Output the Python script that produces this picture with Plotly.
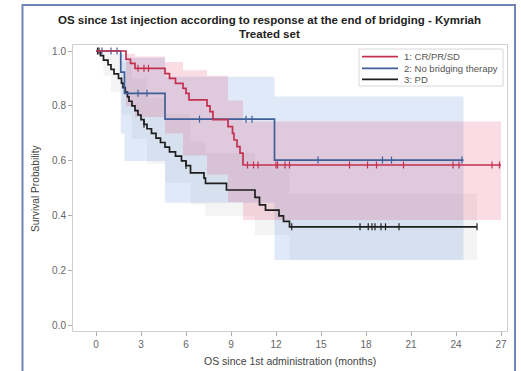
import plotly.graph_objects as go

# ---------------- data ----------------
# Group 1: CR/PR/SD
red_t = [0, 2.0, 2.3, 2.6, 4.6, 4.9, 5.3, 5.8, 6.0, 6.2, 7.4, 7.6, 7.8, 8.8, 9.1, 9.2, 9.4, 9.6, 9.8]
red_s = [1.0, 0.97, 0.955, 0.937, 0.918, 0.90, 0.882, 0.864, 0.846, 0.822, 0.80, 0.779, 0.75, 0.725, 0.70, 0.676, 0.652, 0.628, 0.585]
red_end = 27.0
red_cens_t = [2.8, 3.2, 3.5, 10.1, 10.5, 10.8, 12.0, 12.1, 12.6, 12.9, 16.9, 18.1, 18.7, 20.5, 23.8, 24.2, 26.4, 26.9]
red_ci_t = [0, 2.0, 2.6, 4.6, 5.8, 7.4, 8.8, 9.8]
red_lo = [1.0, 0.80, 0.76, 0.70, 0.62, 0.55, 0.45, 0.385]
red_hi = [1.0, 0.99, 0.98, 0.96, 0.93, 0.91, 0.82, 0.743]

# Group 2: No bridging therapy
blue_t = [0, 1.65, 1.9, 4.6, 11.9]
blue_s = [1.0, 0.923, 0.846, 0.752, 0.603]
blue_end = 24.5
blue_cens_t = [0.4, 1.0, 1.4, 2.8, 3.4, 6.9, 10.0, 10.4, 14.8, 19.1, 19.7, 24.4]
blue_ci_t = [0, 1.65, 1.9, 4.6, 11.9]
blue_lo = [1.0, 0.70, 0.600, 0.448, 0.239]
blue_hi = [1.0, 0.99, 0.975, 0.906, 0.834]

# Group 3: PD
black_t = [0, 0.3, 0.5, 0.8, 1.0, 1.2, 1.5, 1.7, 1.8, 1.95, 2.1, 2.2, 2.4, 2.6, 2.8, 3.0, 3.2,
           3.4, 3.7, 4.0, 4.3, 4.6, 4.9, 5.3, 5.7, 6.0, 6.3, 7.2, 7.3, 8.7, 10.6, 10.9, 11.3,
           12.2, 12.5, 12.9]
black_s = [1.0, 0.983, 0.967, 0.95, 0.933, 0.917, 0.90, 0.883, 0.867, 0.85, 0.833, 0.817, 0.80,
           0.783, 0.767, 0.75, 0.733, 0.717, 0.70, 0.683, 0.667, 0.65, 0.633, 0.617, 0.60, 0.583,
           0.556, 0.537, 0.518, 0.494, 0.467, 0.44, 0.421, 0.40, 0.38, 0.36]
black_end = 25.4
black_cens_t = [0.1, 0.2, 3.2, 6.0, 13.05, 17.6, 18.15, 18.4, 18.6, 19.0, 19.3, 20.2, 25.4]
black_ci_t = [0, 0.5, 1.0, 1.7, 2.4, 3.4, 4.6, 6.3, 7.3, 10.6, 12.9]
black_lo = [1.0, 0.91, 0.85, 0.77, 0.68, 0.59, 0.52, 0.44, 0.40, 0.33, 0.24]
black_hi = [1.0, 1.0, 0.99, 0.96, 0.90, 0.83, 0.77, 0.67, 0.63, 0.58, 0.48]

x_ticks = [0, 3, 6, 9, 12, 15, 18, 21, 24, 27]
y_ticks = [0.0, 0.2, 0.4, 0.6, 0.8, 1.0]

names = ["1: CR/PR/SD", "2: No bridging therapy", "3: PD"]
line_colors = ["#C4304F", "#3E5F98", "#1E1E1E"]
band_colors = ["rgba(225,80,120,0.20)", "rgba(110,155,220,0.22)", "rgba(130,130,130,0.09)"]


def step_xy(t, s, end):
    return list(t) + [end], list(s) + [s[-1]]


def value_at(t, s, x):
    v = s[0]
    for ti, si in zip(t, s):
        if ti <= x:
            v = si
    return v


fig = go.Figure()

groups = [
    (red_t, red_s, red_end, red_cens_t, red_ci_t, red_lo, red_hi),
    (blue_t, blue_s, blue_end, blue_cens_t, blue_ci_t, blue_lo, blue_hi),
    (black_t, black_s, black_end, black_cens_t, black_ci_t, black_lo, black_hi),
]

# bands first (draw order: PD, no bridging, CR)
for gi in [2, 1, 0]:
    t, s, end, ct, cit, lo, hi = groups[gi]
    xl, yl = step_xy(cit, lo, end)
    xh, yh = step_xy(cit, hi, end)
    fig.add_trace(go.Scatter(x=xl, y=yl, mode="lines", line=dict(width=0, shape="hv"),
                             hoverinfo="skip", showlegend=False))
    fig.add_trace(go.Scatter(x=xh, y=yh, mode="lines", line=dict(width=0, shape="hv"),
                             fill="tonexty", fillcolor=band_colors[gi],
                             hoverinfo="skip", showlegend=False))

# survival lines
for gi in [2, 1, 0]:
    t, s, end, ct, cit, lo, hi = groups[gi]
    xs, ys = step_xy(t, s, end)
    fig.add_trace(go.Scatter(x=xs, y=ys, mode="lines", name=names[gi],
                             line=dict(color=line_colors[gi], width=1.7, shape="hv"),
                             showlegend=False))
    cy = [value_at(t, s, x) for x in ct]
    fig.add_trace(go.Scatter(x=ct, y=cy, mode="markers", showlegend=False,
                             marker=dict(symbol="line-ns-open", size=5, color=line_colors[gi],
                                         line=dict(color=line_colors[gi], width=1.2))))

# pixel helpers for layout (plot area: x 73..507, y 45..331)
L, R, T, B = 73, 507, 45, 331


def px(x):
    return (x - L) / (R - L)


def py(y):
    return (B - y) / (B - T)


shapes = [
    dict(type="rect", xref="paper", yref="paper", x0=px(22.5), x1=px(515), y0=py(380), y1=py(5),
         line=dict(color="#6F86B4", width=2), fillcolor="rgba(0,0,0,0)", layer="below"),
    dict(type="rect", xref="paper", yref="paper", x0=px(359), x1=px(503), y0=py(86), y1=py(49),
         line=dict(color="#D8D8D8", width=1), fillcolor="white"),
]
annotations = [
    dict(text="<b>OS since 1st injection according to response at the end of bridging - Kymriah</b>",
         xref="paper", yref="paper", x=px(269), y=py(19.5), showarrow=False,
         xanchor="center", yanchor="middle", font=dict(size=11.5, color="#222")),
    dict(text="<b>Treated set</b>", xref="paper", yref="paper", x=px(269), y=py(33.5),
         showarrow=False, xanchor="center", yanchor="middle", font=dict(size=11.5, color="#222")),
    dict(text="Survival Probability", xref="paper", yref="paper", x=px(35), y=py(188),
         showarrow=False, textangle=-90, xanchor="center", yanchor="middle",
         font=dict(size=10.2, color="#444")),
    dict(text="OS since 1st administration (months)", xref="paper", yref="paper", x=px(290),
         y=py(361), showarrow=False, xanchor="center", yanchor="middle",
         font=dict(size=10.5, color="#444")),
]
rows = [56.7, 68.3, 79.3]
for i in range(3):
    shapes.append(dict(type="line", xref="paper", yref="paper", x0=px(362), x1=px(398),
                       y0=py(rows[i]), y1=py(rows[i]), line=dict(color=line_colors[i], width=1.8)))
    annotations.append(dict(text=names[i], xref="paper", yref="paper", x=px(402), y=py(rows[i]),
                            showarrow=False, xanchor="left", yanchor="middle",
                            font=dict(size=9.5, color="#555")))

fig.update_layout(
    width=521, height=371,
    margin=dict(l=L, r=521 - R, t=T, b=371 - B),
    paper_bgcolor="white", plot_bgcolor="white",
    font=dict(family="Liberation Sans, Arial, sans-serif", size=9, color="#555"),
    shapes=shapes, annotations=annotations, showlegend=False,
)
fig.update_xaxes(range=[(L - 96) / 15.0, (R - 96) / 15.0], tickvals=x_ticks,
                 showgrid=False, zeroline=False, showline=True, linecolor="#D0D0D0", mirror=True,
                 ticks="outside", ticklen=4, tickcolor="#AAAAAA", tickfont=dict(size=10, color="#666"))
fig.update_yaxes(range=[(325.7 - B) / 274.7, (325.7 - T) / 274.7], tickvals=y_ticks, tickformat=".1f",
                 showgrid=False, zeroline=False, showline=True, linecolor="#D0D0D0", mirror=True,
                 ticks="outside", ticklen=4, tickcolor="#AAAAAA", tickfont=dict(size=10, color="#666"))

fig.write_html("out.html")
